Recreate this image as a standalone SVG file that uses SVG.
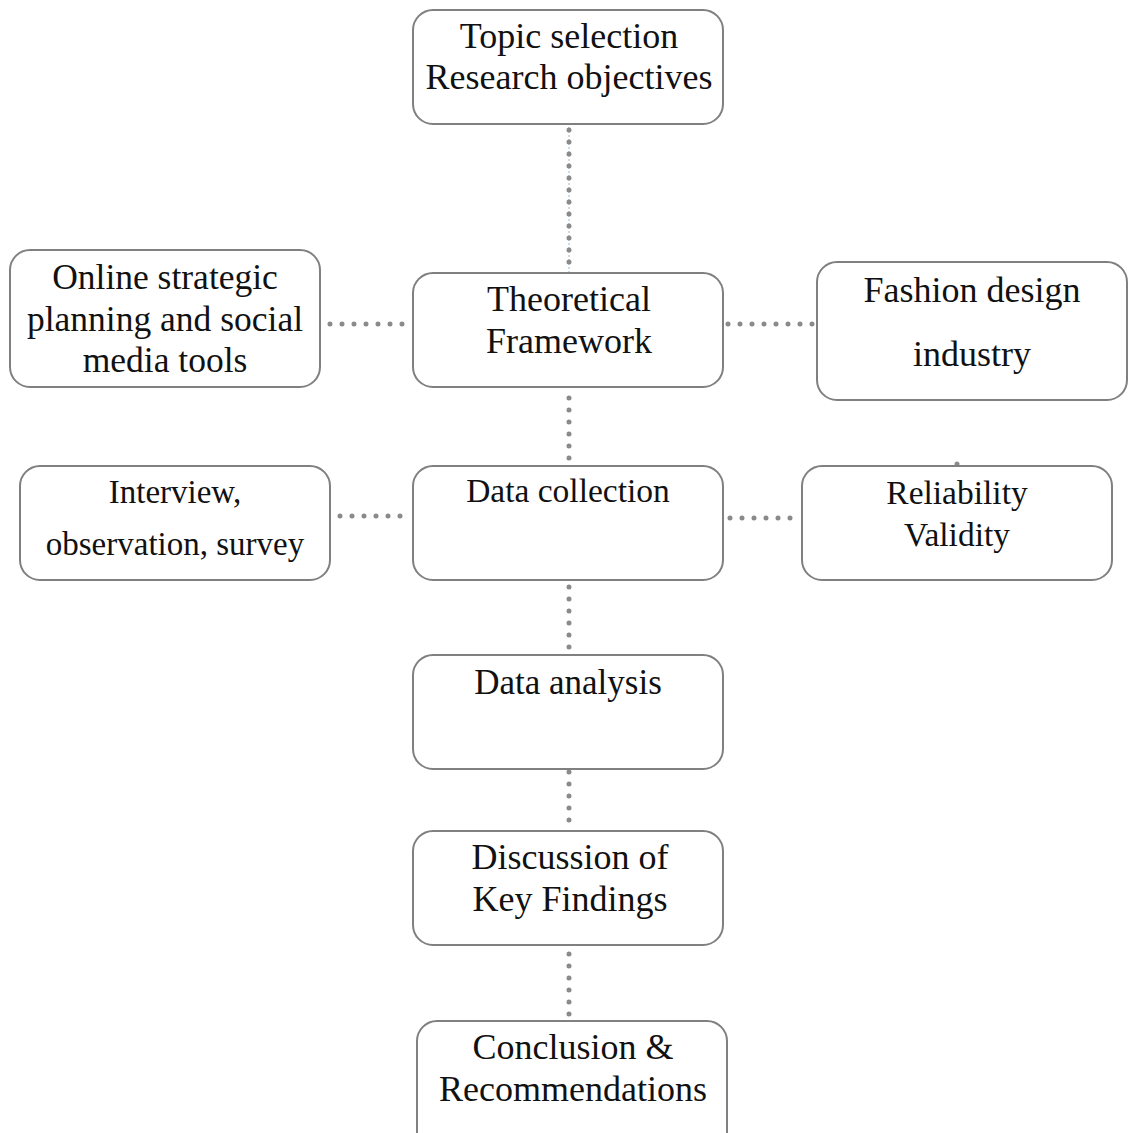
<svg xmlns="http://www.w3.org/2000/svg" width="1133" height="1133" viewBox="0 0 1133 1133">
<style>
.box{fill:#fff;stroke:#808080;stroke-width:2}
.t{font-family:"Liberation Serif","Times New Roman",serif;fill:#111;text-anchor:middle}
.dot{fill:none;stroke:#8a8a8a;stroke-width:5;stroke-linecap:round;stroke-dasharray:0 12}
</style>
<rect width="1133" height="1133" fill="#fff"/>
<g id="connectors">
<line x1="569" y1="127" x2="569" y2="272" stroke="#9ab4dd" stroke-width="1" stroke-dasharray="2 2"/>
<line x1="569" y1="130" x2="569" y2="270" class="dot"/>
<line x1="330" y1="324" x2="410" y2="324" class="dot"/>
<line x1="728" y1="324" x2="814" y2="324" class="dot"/>
<line x1="569" y1="398" x2="569" y2="462" class="dot"/>
<line x1="340" y1="516" x2="410" y2="516" class="dot"/>
<line x1="730" y1="518" x2="800" y2="518" class="dot"/>
<circle cx="957" cy="464" r="2.5" fill="#8a8a8a"/>
<line x1="569" y1="587" x2="569" y2="648" class="dot"/>
<line x1="569" y1="772" x2="569" y2="830" class="dot"/>
<line x1="569" y1="954" x2="569" y2="1015" class="dot"/>
</g>
<g id="topic">
<rect class="box" x="413" y="10" width="310" height="114" rx="20"/>
<text class="t" x="569" y="48" font-size="36">Topic selection</text>
<text class="t" x="569" y="89" font-size="36">Research objectives</text>
</g>
<g id="online">
<rect class="box" x="10" y="250" width="310" height="137" rx="20"/>
<text class="t" x="165" y="289" font-size="35.5">Online strategic</text>
<text class="t" x="165" y="331" font-size="35.5">planning and social</text>
<text class="t" x="165" y="372" font-size="35.5">media tools</text>
</g>
<g id="theoretical">
<rect class="box" x="413" y="273" width="310" height="114" rx="20"/>
<text class="t" x="569" y="311" font-size="36">Theoretical</text>
<text class="t" x="569" y="353" font-size="36">Framework</text>
</g>
<g id="fashion">
<rect class="box" x="817" y="262" width="310" height="138" rx="20"/>
<text class="t" x="972" y="302" font-size="36">Fashion design</text>
<text class="t" x="972" y="366" font-size="36">industry</text>
</g>
<g id="interview">
<rect class="box" x="20" y="466" width="310" height="114" rx="20"/>
<text class="t" x="175" y="503" font-size="33">Interview,</text>
<text class="t" x="175" y="555" font-size="33">observation, survey</text>
</g>
<g id="datacollection">
<rect class="box" x="413" y="466" width="310" height="114" rx="20"/>
<text class="t" x="568" y="502" font-size="33.5">Data collection</text>
</g>
<g id="reliability">
<rect class="box" x="802" y="466" width="310" height="114" rx="20"/>
<text class="t" x="957" y="504" font-size="33.5">Reliability</text>
<text class="t" x="957" y="546" font-size="33.5">Validity</text>
</g>
<g id="dataanalysis">
<rect class="box" x="413" y="655" width="310" height="114" rx="20"/>
<text class="t" x="568" y="694" font-size="35">Data analysis</text>
</g>
<g id="discussion">
<rect class="box" x="413" y="831" width="310" height="114" rx="20"/>
<text class="t" x="570" y="869" font-size="36">Discussion of</text>
<text class="t" x="570" y="911" font-size="36">Key Findings</text>
</g>
<g id="conclusion">
<rect class="box" x="417" y="1021" width="310" height="140" rx="20"/>
<text class="t" x="573" y="1059" font-size="36">Conclusion &amp;</text>
<text class="t" x="573" y="1101" font-size="36">Recommendations</text>
</g>
</svg>
